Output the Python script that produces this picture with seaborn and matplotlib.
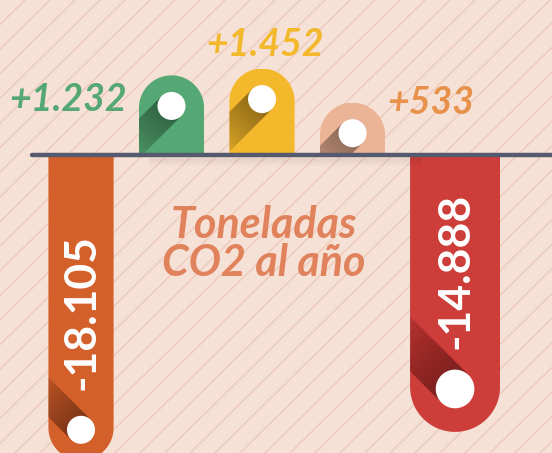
import numpy as np
import pandas as pd
import seaborn as sns
import matplotlib.pyplot as plt
from matplotlib.path import Path
from matplotlib.patches import Circle, Polygon

cats = ["a", "b", "c", "d", "e"]
values = [-18105, 1232, 1452, 533, -14888]
labels = ["-18.105", "+1.232", "+1.452", "+533", "-14.888"]
colors = ["#d35f2a", "#55a873", "#f3b82b", "#ecb497", "#cd3d39"]
label_colors = ["white", "#55a873", "#f3b82b", "#e8914a", "white"]
label_side = ["inside", "left", "top", "right", "inside"]

df = pd.DataFrame({"cat": cats, "value": values})

bg_col = "#f6e1d7"
fig = plt.figure(figsize=(5.52, 4.53), dpi=100, facecolor=bg_col)

# pixel helper axes (y down), also holds background stripes
px = fig.add_axes([0, 0, 1, 1], zorder=0)
px.set_xlim(0, 552)
px.set_ylim(453, 0)
px.axis("off")
for x0 in np.arange(-460, 560, 25):
    px.plot([x0, x0 + 460], [453, 0], color="#efcbbc", lw=1.1, zorder=0)

ax = fig.add_axes([0, 0, 1, 1], zorder=1)
ax.patch.set_alpha(0)

sns.barplot(data=df, x="cat", y="value", hue="cat", palette=colors,
            legend=False, width=0.72, saturation=1, ax=ax)

fwd = lambda y: np.sign(y) * np.sqrt(np.abs(y))
inv = lambda y: np.sign(y) * y ** 2
ax.set_yscale("function", functions=(fwd, inv))
ax.set_xlim(-0.895, 5.204)
ax.set_ylim(-17240, 4665)
ax.set_autoscale_on(False)
ax.axis("off")

bars = ax.patches[:5]
# last bar is wider and set a bit further right
bars[4].set_x(4.133 - 0.497)
bars[4].set_width(0.994)


def to_px(x, y):
    return px.transData.inverted().transform(ax.transData.transform((x, y)))


T = px.transData
for b, val, lab, lc, side in zip(bars, values, labels, label_colors, label_side):
    L, yb = to_px(b.get_x(), 0)
    R, yt = to_px(b.get_x() + b.get_width(), val)
    r = (R - L) / 2
    cx = (L + R) / 2
    s = 1 if val > 0 else -1
    t = np.linspace(np.pi, 0, 40)
    arc = np.column_stack([cx + r * np.cos(t), yt + s * r - s * r * np.sin(t)])
    pts = np.vstack([[L, yb], arc, [R, yb]])
    shape = Path(pts)
    b.set_clip_path(shape, T)

    # long shadow from the white dot
    cy = yt + s * (r - 2)
    rc = 0.43 * r
    d = np.array([-1.0, 1.0 * s]) / np.sqrt(2)
    n = np.array([d[1], -d[0]])
    c = np.array([cx, cy])
    for k in range(1, 21):
        ln = 2.3 * r * k / 20
        poly = [c + n * rc, c - n * rc, c - n * rc + d * ln, c + n * rc + d * ln]
        sh = Polygon(poly, closed=True, color="black", alpha=0.022, lw=0,
                     transform=T, zorder=3)
        ax.add_patch(sh)
        sh.set_clip_path(shape, T)
    ax.add_patch(Circle((cx, cy), rc, color="white", lw=0, transform=T, zorder=4))

    font = dict(family="Lato", weight="bold", transform=T, zorder=6)
    if side == "inside":
        ax.text(cx, cy - 40, lab, rotation=90, ha="center", va="bottom",
                color=lc, fontsize=32, **font)
    elif side == "left":
        ax.text(L - 12, yt + 24, lab, ha="right", va="center", color=lc,
                fontsize=27, style="italic", **font)
    elif side == "top":
        ax.text(cx + 3, yt - 24, lab, ha="center", va="center", color=lc,
                fontsize=27, style="italic", **font)
    else:
        ax.text(R + 2, yt, lab, ha="left", va="center", color=lc,
                fontsize=27, style="italic", **font)

# baseline with a soft shadow
for j in range(1, 9):
    ax.plot([150, 420], [157 + j, 157 + j], color="black", alpha=0.025 * (9 - j) / 8,
            lw=2, transform=T, zorder=4)
ax.axhline(0, xmin=32 / 552, xmax=1, color="#555a6e", lw=3.2,
           solid_capstyle="round", zorder=5)

ax.text(264, 244, "Toneladas\nCO2 al año", ha="center", va="center",
        color="#df7a50", alpha=0.92, fontsize=31, family="Lato", weight="bold",
        style="italic", linespacing=0.95, transform=T, zorder=6)

fig.savefig("out.png", dpi=100, facecolor=bg_col)
